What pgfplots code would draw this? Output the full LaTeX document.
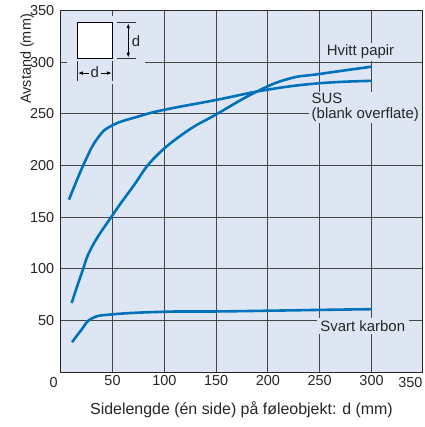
\documentclass[border=0pt]{standalone}
\usepackage{pgfplots}
\pgfplotsset{compat=1.18}
\usepackage{fontspec}
\setmainfont{Liberation Sans}
\usetikzlibrary{arrows.meta}
\definecolor{bgblue}{RGB}{222,230,243}
\definecolor{lineblue}{RGB}{0,114,188}
\definecolor{gridc}{RGB}{70,70,70}
\begin{document}
\begin{tikzpicture}
\useasboundingbox (-60.7bp,-54.8bp) rectangle (364.3bp,372.2bp);
\begin{axis}[
  scale only axis, width=361.6bp, height=361.6bp,
  xmin=0, xmax=349, ymin=0, ymax=350,
  xtick={50,100,...,300}, ytick={50,100,...,350},
  grid=major, major grid style={gridc, line width=0.9bp},
  major tick length=0,
  axis line style={black!85, line width=1.3bp},
  axis background/.style={fill=bgblue},
  tick label style={font=\fontsize{14.5}{16}\selectfont, text=black!85},
  yticklabel style={xshift=-3bp},
  /pgf/number format/assume math mode=true,
  clip=false,
]
\addplot[lineblue, line width=2.6bp, smooth, tension=0.75] coordinates {
(8,167) (23,203) (36,227) (50,239) (75,247.5) (100,254) (150,263.5) (200,273.5) (250,279.7) (300,282)};
\addplot[lineblue, line width=2.6bp, smooth, tension=0.75] coordinates {
(10.6,67) (20.3,96) (30,121) (50,152) (70,180) (90,207) (120,232) (150,249.5) (189,271.5) (220,284) (250,288.7) (300,295.7)};
\addplot[lineblue, line width=2.6bp, smooth, tension=0.75] coordinates {
(11,29) (20,41) (30,52) (50,56) (100,58.5) (150,58.8) (200,59.5) (250,60.3) (300,61)};
% curve labels
\node[fill=bgblue, inner xsep=6bp, inner ysep=2bp, font=\fontsize{15}{17}\selectfont, text=black!85] at (axis cs:289.4,310.3) {Hvitt papir};
\node[fill=bgblue, inner xsep=3bp, inner ysep=1.5bp, align=left, anchor=west, font=\fontsize{15}{14.7}\selectfont, text=black!85] at (axis cs:239.2,256.2) {SUS\\(blank overflate)};
\node[fill=bgblue, inner xsep=3.5bp, inner ysep=2.5bp, font=\fontsize{15}{17}\selectfont, text=black!85] at (axis cs:291.5,44.7) {Svart karbon};
% inset
\fill[bgblue] (axis cs:6.1,279) rectangle (axis cs:81.3,344.8);
\draw[black, line width=1.3bp, fill=white] (axis cs:16,303.9) rectangle (axis cs:50,338.3);
\draw[black!80, line width=0.8bp] (axis cs:54,338.3) -- (axis cs:72.6,338.3);
\draw[black!80, line width=0.8bp] (axis cs:54,303.9) -- (axis cs:72.6,303.9);
\draw[black, line width=1bp, {Latex[length=5bp,width=3.6bp]}-{Latex[length=5bp,width=3.6bp]}] (axis cs:65.2,337.8) -- (axis cs:65.2,304.4);
\node[anchor=west, inner sep=0pt, font=\fontsize{15}{17}\selectfont, text=black!85] at (axis cs:68.5,320.5) {d};
\draw[black!80, line width=0.8bp] (axis cs:16,301.4) -- (axis cs:16,282.2);
\draw[black!80, line width=0.8bp] (axis cs:50,301.4) -- (axis cs:50,282.2);
\draw[black, line width=1bp, {Latex[length=5bp,width=3.6bp]}-{Latex[length=5bp,width=3.6bp]}] (axis cs:16.5,289.5) -- (axis cs:49.5,289.5);
\node[fill=bgblue, inner sep=1.5bp, font=\fontsize{15}{17}\selectfont, text=black!85] at (axis cs:33,290) {d};
% extra tick labels and axis labels
\node[font=\fontsize{14.5}{16}\selectfont, text=black!85] at ([yshift=-10.8bp]axis cs:-6.75,0) {0};
\node[font=\fontsize{14.5}{16}\selectfont, text=black!85] at ([yshift=-10.8bp]axis cs:337.5,0) {350};
\node[font=\fontsize{16}{18}\selectfont, text=black!85] at ([yshift=-37.7bp]rel axis cs:0.5,0) {Sidelengde (én side) på føleobjekt: d (mm)};
\node[rotate=90, anchor=east, font=\fontsize{14.5}{16}\selectfont, text=black!85] at ([xshift=-33.5bp]rel axis cs:0,1) {Avstand (mm)};
\end{axis}
\end{tikzpicture}
\end{document}
